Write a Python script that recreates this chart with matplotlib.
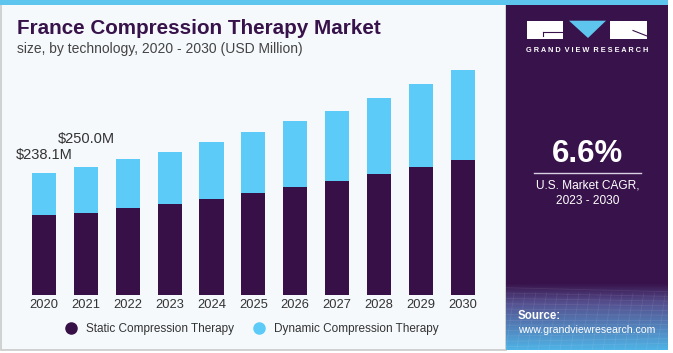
import numpy as np
import matplotlib
matplotlib.use("Agg")
import matplotlib.pyplot as plt
from matplotlib.patches import Rectangle, Polygon
from matplotlib.lines import Line2D

years = ["2020", "2021", "2022", "2023", "2024", "2025", "2026", "2027", "2028", "2029", "2030"]
static = [155.8, 160.9, 169.5, 178.5, 187.7, 198.8, 211.7, 223.5, 236.6, 250.2, 264.5]
dynamic = [82.3, 89.1, 96.4, 101.1, 112.0, 120.5, 127.9, 136.8, 148.5, 162.3, 176.0]
label_years = ["2020", "2021"]
label_texts = ["$238.1M", "$250.0M"]

STATIC_C = "#371047"
DYN_C = "#5ccbf7"
PANEL_C = "#38124a"
BG_C = "#f5f9fc"

W, H = 673, 353
fig = plt.figure(figsize=(W / 100, H / 100), dpi=100)
fig.patch.set_facecolor("white")


def fx(x):
    return x / W


def fy(y):
    return 1 - y / H


def rect(x0, y0, x1, y1, **kw):
    r = Rectangle((fx(x0), fy(y1)), fx(x1) - fx(x0), fy(y0) - fy(y1),
                  transform=fig.transFigure, **kw)
    fig.patches.append(r)
    return r

# left panel background with border
rect(1, 0, 506, 350, facecolor=BG_C, edgecolor="#c9c9c9", linewidth=1.2, zorder=-3)
# right panel
rect(506, 0, 668, 350, facecolor=PANEL_C, edgecolor="none", zorder=-2)
# gradient at bottom of right panel
gax = fig.add_axes([fx(506), fy(350), fx(668) - fx(506), fy(283) - fy(350)])
gax.set_zorder(1)
gax.axis("off")
c0 = np.array(matplotlib.colors.to_rgb(PANEL_C))
c1 = np.array(matplotlib.colors.to_rgb("#55508f"))
c2 = np.array(matplotlib.colors.to_rgb("#4fb3e6"))
t = np.linspace(0, 1, 100)[:, None]
grad = np.where(t < 0.3, c0 + (c1 - c0) * (t / 0.3), c1 + (c2 - c1) * ((t - 0.3) / 0.7))
gax.imshow(grad[:, None, :].repeat(2, axis=1), aspect="auto", extent=[0, 1, 0, 1], origin="upper")
for k in range(12):
    gax.plot([0, 1], [0.05 + 0.08 * k, 0.1 + 0.07 * k], color="white", alpha=0.08, lw=0.6)
for k in range(16):
    gax.plot([k / 15, k / 15 + 0.05], [0, 0.85], color="white", alpha=0.08, lw=0.6)
gax.set_xlim(0, 1)
gax.set_ylim(0, 1)

# top stripe
rect(0, 0, 668, 5, facecolor="#5ec6ee", edgecolor="none", zorder=2)

# bar axes
ax = fig.add_axes([fx(23.1), fy(295), fx(483.6) - fx(23.1), fy(60) - fy(295)])
ax.set_zorder(3)
ax.set_facecolor("none")
x = np.arange(len(years))
ax.bar(x, static, width=0.575, color=STATIC_C, zorder=2)
ax.bar(x, dynamic, bottom=static, width=0.575, color=DYN_C, zorder=2)
ax.set_xlim(-0.5, len(years) - 0.5)
ax.set_ylim(0, 459.4)
ax.set_xticks(x)
ax.set_xticklabels(years, fontsize=9.3, color="#333333", family="Liberation Sans")
ax.tick_params(axis="x", length=0, pad=3)
ax.set_yticks([])
for s in ax.spines.values():
    s.set_visible(False)

offsets = [8, 15.5]
for yr, txt, off in zip(label_years, label_texts, offsets):
    i = years.index(yr)
    tot = static[i] + dynamic[i]
    ax.annotate(txt, (i, tot), xytext=(0, off), textcoords="offset points",
                ha="center", va="bottom", fontsize=10.5, color="#333333",
                family="Liberation Sans")

# titles
fig.text(fx(17), fy(28), "France Compression Therapy Market", fontsize=14.9,
         fontweight="bold", color="#38124a", family="Liberation Sans", va="center", ha="left")
fig.text(fx(17), fy(49), "size, by technology, 2020 - 2030 (USD Million)", fontsize=10,
         color="#444444", family="Liberation Sans", va="center", ha="left")

# legend
handles = [Line2D([], [], marker="o", ls="none", markersize=8, color=STATIC_C),
           Line2D([], [], marker="o", ls="none", markersize=8, color=DYN_C)]
fig.legend(handles, ["Static Compression Therapy", "Dynamic Compression Therapy"],
           loc="center", bbox_to_anchor=(fx(249), fy(329)), ncol=2, frameon=False,
           prop={"family": "Liberation Sans", "size": 8.5}, handletextpad=0.3,
           columnspacing=1.1, labelcolor="#333333")

# logo
rect(527, 20.7, 563, 39.3, facecolor="white", edgecolor="none", zorder=3)
fig.add_artist(Line2D([fx(543), fx(563)], [fy(31.5), fy(31.5)], color=PANEL_C, lw=0.8,
                      transform=fig.transFigure, zorder=4))
fig.add_artist(Line2D([fx(543), fx(543)], [fy(31.5), fy(35.5)], color=PANEL_C, lw=0.8,
                      transform=fig.transFigure, zorder=4))
tri = Polygon([(fx(569), fy(20.7)), (fx(606), fy(20.7)), (fx(588), fy(38))],
              closed=True, transform=fig.transFigure, facecolor="#5ec6ee", edgecolor="none", zorder=3)
fig.patches.append(tri)
rect(610, 20.7, 647, 39.3, facecolor="white", edgecolor="none", zorder=3)
fig.add_artist(Line2D([fx(633), fx(647)], [fy(30.5), fy(36)], color=PANEL_C, lw=0.8,
                      transform=fig.transFigure, zorder=4))
fig.text(fx(587), fy(51), "G R A N D  V I E W  R E S E A R C H",
         fontsize=5.3, fontweight="bold", color="white", family="Liberation Sans",
         ha="center", va="center", zorder=5)

# CAGR
fig.text(fx(587.5), fy(154), "6.6%", fontsize=22.5, fontweight="bold", color="white",
         family="Liberation Sans", ha="center", va="center", zorder=5)
fig.add_artist(Line2D([fx(534), fx(641)], [fy(173.3), fy(173.3)], color="#d8d0e0", lw=1,
                      transform=fig.transFigure, zorder=5))
fig.text(fx(587.5), fy(185), "U.S. Market CAGR,", fontsize=8.6, color="white",
         family="Liberation Sans", ha="center", va="center", zorder=5)
fig.text(fx(587.5), fy(201), "2023 - 2030", fontsize=8.6, color="white",
         family="Liberation Sans", ha="center", va="center", zorder=5)

# source
fig.text(fx(518), fy(316), "Source:", fontsize=8.3, fontweight="bold", color="white",
         family="Liberation Sans", ha="left", va="center", zorder=5)
fig.text(fx(518), fy(330), "www.grandviewresearch.com", fontsize=7.6, color="white",
         family="Liberation Sans", ha="left", va="center", zorder=5)

fig.savefig("out.png", dpi=100)
